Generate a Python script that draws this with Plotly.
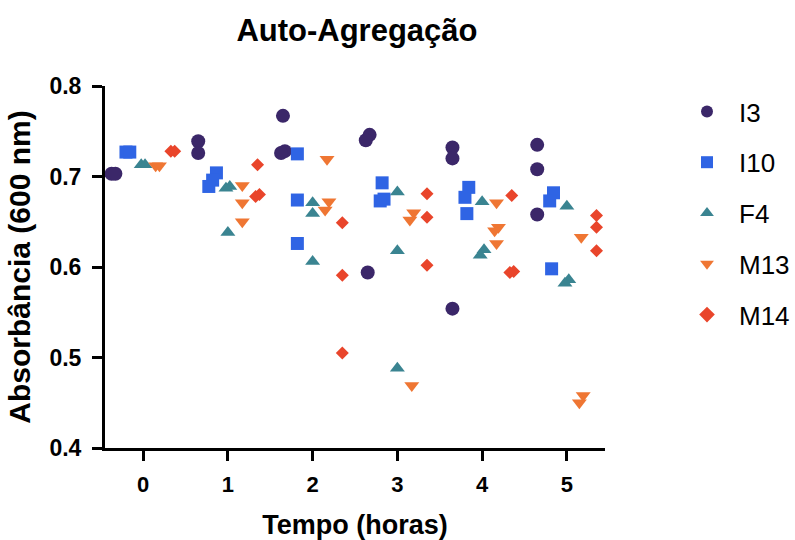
import plotly.graph_objects as go

# Sampling times (hours)
times = [0, 1, 2, 3, 4, 5]

# Absorbance readings at 600 nm, one list of replicates per time point
i3 = [
    [0.703, 0.703],
    [0.739, 0.726],
    [0.767, 0.728, 0.726],
    [0.746, 0.740, 0.594],
    [0.732, 0.720, 0.554],
    [0.735, 0.708, 0.658],
]
i10 = [
    [0.727, 0.727],
    [0.704, 0.696, 0.689],
    [0.725, 0.674, 0.626],
    [0.693, 0.675, 0.673],
    [0.688, 0.677, 0.659],
    [0.682, 0.673, 0.598],
]
f4 = [
    [0.713, 0.713],
    [0.689, 0.687, 0.638],
    [0.671, 0.659, 0.606],
    [0.683, 0.618, 0.488],
    [0.672, 0.619, 0.613],
    [0.667, 0.586, 0.582],
]
m13 = [
    [0.712, 0.712],
    [0.690, 0.671, 0.650],
    [0.719, 0.672, 0.663],
    [0.660, 0.652, 0.469],
    [0.671, 0.644, 0.640, 0.626],
    [0.633, 0.458, 0.450],
]
m14 = [
    [0.728, 0.728],
    [0.713, 0.680, 0.678],
    [0.649, 0.591, 0.505],
    [0.681, 0.655, 0.602],
    [0.679, 0.595, 0.594],
    [0.657, 0.644, 0.618],
]

series_names = ["I3", "I10", "F4", "M13", "M14"]
series_data = [i3, i10, f4, m13, m14]
colors = ["#3b2769", "#2f64e4", "#3a8491", "#ef7633", "#e9452b"]
symbols = ["circle", "square", "triangle-up", "triangle-down", "diamond"]
sizes = [14, 13, 13, 13, 10]
group_shift = [-0.35, -0.18, 0.0, 0.17, 0.35]


def spread(values, center, y_gap=0.012, x_step=0.045):
    """Place replicates around the group centre, nudging points whose
    values nearly coincide side by side so they stay visible."""
    order = sorted(range(len(values)), key=lambda k: values[k])
    xs = [center] * len(values)
    clusters = []
    for k in order:
        if clusters and values[k] - values[clusters[-1][-1]] < y_gap:
            clusters[-1].append(k)
        else:
            clusters.append([k])
    for cl in clusters:
        n = len(cl)
        for j, k in enumerate(cl):
            xs[k] = center + (j - (n - 1) / 2) * x_step
    return xs


fig = go.Figure()
for name, data, col, sym, sz, shift in zip(series_names, series_data, colors,
                                           symbols, sizes, group_shift):
    xs, ys = [], []
    for t, reps in zip(times, data):
        xs.extend(spread(reps, t + shift))
        ys.extend(reps)
    fig.add_trace(go.Scatter(
        x=xs, y=ys, mode="markers", name=name, legendgroup=name,
        marker=dict(symbol=sym, size=sz, color=col, line=dict(width=0)),
    ))

font_family = "Liberation Sans, Arial, sans-serif"

fig.update_layout(
    width=795, height=540,
    margin=dict(l=105, r=190, t=86, b=92),
    paper_bgcolor="white", plot_bgcolor="white",
    font=dict(family=font_family, color="black"),
    title=dict(text="Auto-Agregação", x=0.449, xanchor="center",
               y=1 - 30 / 540, yanchor="middle",
               font=dict(size=31, weight="bold", color="black")),
    showlegend=True,
    legend=dict(xref="container", yref="container",
                x=675 / 795, xanchor="left", y=1 - 88 / 540, yanchor="top",
                font=dict(size=26, color="black"),
                itemsizing="constant", itemwidth=54, tracegroupgap=14,
                bgcolor="rgba(0,0,0,0)"),
    xaxis=dict(
        range=[-0.45, 5.45], tickmode="array", tickvals=times,
        ticktext=[str(t) for t in times], automargin=False,
        showgrid=False, zeroline=False, showline=True, linecolor="black",
        linewidth=3, ticks="outside", ticklen=10, tickwidth=3,
        tickcolor="black", ticklabelstandoff=5,
        tickfont=dict(size=22, weight="bold", color="black"),
        title=dict(text="Tempo (horas)", standoff=20,
                   font=dict(size=27, weight="bold", color="black")),
    ),
    yaxis=dict(
        range=[0.4, 0.8], tickmode="array",
        tickvals=[0.4, 0.5, 0.6, 0.7, 0.8],
        ticktext=["0.4", "0.5", "0.6", "0.7", "0.8"], automargin=False,
        showgrid=False, zeroline=False, showline=True, linecolor="black",
        linewidth=3, ticks="outside", ticklen=10, tickwidth=3,
        tickcolor="black", ticklabelstandoff=6,
        tickfont=dict(size=23, weight="bold", color="black"),
        title=dict(text="Absorbância (600 nm)", standoff=10,
                   font=dict(size=30, weight="bold", color="black")),
    ),
)

fig.write_html("out.html")
